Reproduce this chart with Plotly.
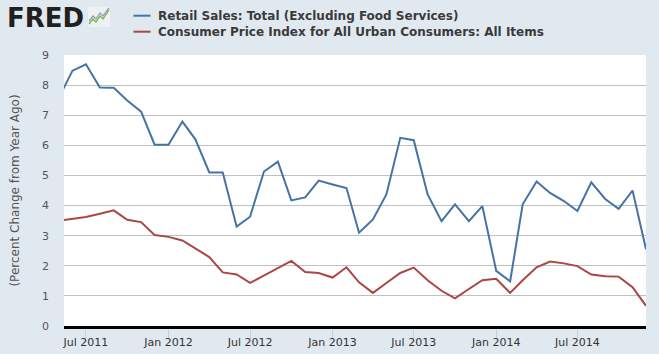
import plotly.graph_objects as go
import pandas as pd

dates = pd.date_range("2011-05-01", "2014-12-01", freq="MS")

retail_sales = [
    7.56, 8.48, 8.69, 7.92, 7.91, 7.49, 7.12, 6.02,
    6.02, 6.79, 6.20, 5.10, 5.10, 3.30, 3.63, 5.13, 5.46, 4.17, 4.27, 4.83,
    4.70, 4.58, 3.10, 3.54, 4.37, 6.25, 6.17, 4.37, 3.48, 4.04, 3.48, 3.98,
    1.83, 1.48, 4.04, 4.80, 4.42, 4.15, 3.82, 4.77, 4.22, 3.89, 4.50, 2.55,
]
cpi = [
    3.50, 3.55, 3.62, 3.73, 3.84, 3.53, 3.45, 3.02,
    2.96, 2.84, 2.56, 2.29, 1.78, 1.71, 1.43, 1.68, 1.92, 2.16, 1.79, 1.76,
    1.61, 1.95, 1.45, 1.10, 1.43, 1.76, 1.94, 1.52, 1.17, 0.92, 1.23, 1.52,
    1.57, 1.10, 1.52, 1.95, 2.14, 2.08, 1.99, 1.71, 1.65, 1.64, 1.29, 0.67,
]
series_names = [
    "Retail Sales: Total (Excluding Food Services)",
    "Consumer Price Index for All Urban Consumers: All Items",
]
tick_dates = ["2011-07-01", "2012-01-01", "2012-07-01", "2013-01-01",
              "2013-07-01", "2014-01-01", "2014-07-01"]
tick_labels = ["Jul 2011", "Jan 2012", "Jul 2012", "Jan 2013",
               "Jul 2013", "Jan 2014", "Jul 2014"]
y_ticks = list(range(0, 10))

BLUE = "#4572a7"
RED = "#aa4643"
BG = "#e1e9f0"
FONT = "DejaVu Sans"

W, H = 659, 354
L, R, T, B = 64, 13, 55, 28
PW, PH = W - L - R, H - T - B


def px(x):
    return (x - L) / PW


def py(y):
    return (H - B - y) / PH


fig = go.Figure()
fig.add_trace(go.Scatter(x=dates, y=retail_sales, mode="lines",
                         line=dict(color=BLUE, width=2), name=series_names[0],
                         showlegend=False))
fig.add_trace(go.Scatter(x=dates, y=cpi, mode="lines",
                         line=dict(color=RED, width=2), name=series_names[1],
                         showlegend=False))

shapes = []
annotations = []
# manual legend
for i, (name, col) in enumerate(zip(series_names, [BLUE, RED])):
    yy = 15.7 + 16 * i
    shapes.append(dict(type="line", xref="paper", yref="paper",
                       x0=px(133.5), x1=px(150.5), y0=py(yy), y1=py(yy),
                       line=dict(color=col, width=2)))
    annotations.append(dict(xref="paper", yref="paper", x=px(155.5), y=py(yy),
                            xanchor="left", yanchor="middle", showarrow=False,
                            text="<b>" + name + "</b>",
                            font=dict(family=FONT, size=12, color="#3a3a3a")))

# FRED logo
annotations.append(dict(xref="paper", yref="paper", x=px(5), y=py(18),
                        xanchor="left", yanchor="middle", showarrow=False,
                        text="<b>FRED</b>",
                        font=dict(family="DejaVu Sans", size=26, color="#231f20")))
shapes.append(dict(type="rect", xref="paper", yref="paper",
                   x0=px(88), x1=px(110), y0=py(27), y1=py(7),
                   fillcolor="#eef1f3", line=dict(width=0)))
pts_g = [(89, 24), (93, 19), (96, 22), (100, 16), (103, 19), (109, 10)]
pts_b = [(89, 21), (93, 16), (96, 19), (100, 13), (103, 16), (109, 8)]
for pts, col in [(pts_g, "#7db343"), (pts_b, "#8aa4bb")]:
    path = "M " + " L ".join(f"{px(a):.4f},{py(b):.4f}" for a, b in pts)
    shapes.append(dict(type="path", xref="paper", yref="paper", path=path,
                       line=dict(color=col, width=1.3)))

fig.update_layout(
    width=W, height=H,
    margin=dict(l=L, r=R, t=T, b=B, pad=0, autoexpand=False),
    paper_bgcolor=BG, plot_bgcolor="white",
    font=dict(family=FONT, size=11, color="#333333"),
    shapes=shapes, annotations=annotations,
    showlegend=False,
)
fig.update_xaxes(
    type="date", range=["2011-05-13", "2014-12-01"],
    tickvals=tick_dates, ticktext=tick_labels, automargin=False,
    ticks="outside", ticklen=10, tickcolor="#c0d0e0", tickwidth=1,
    ticklabelstandoff=-6,
    showgrid=False, zeroline=False,
    showline=True, linecolor="black", linewidth=3,
    tickfont=dict(family=FONT, size=11, color="#333333"),
)
fig.update_yaxes(
    range=[0, 9], tickvals=y_ticks, ticks="", automargin=False,
    showgrid=True, gridcolor="#c0c0c0", gridwidth=1,
    zeroline=False, showline=False,
    ticklabelstandoff=14,
    tickfont=dict(family=FONT, size=11, color="#555555"),
    title=dict(text="(Percent Change from Year Ago)", standoff=19,
               font=dict(family=FONT, size=12, color="#555555")),
)

fig.write_html("out.html")
